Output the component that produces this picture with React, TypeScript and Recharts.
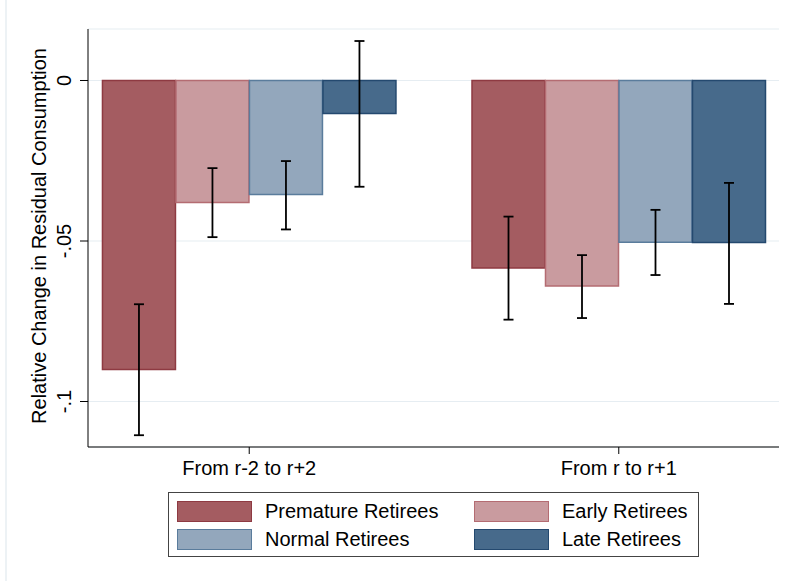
import React from 'react';
import { BarChart, Bar, XAxis, YAxis, CartesianGrid, ErrorBar, Legend } from 'recharts';

const categories = ['From r-2 to r+2', 'From r to r+1'];
const positions = [1, 2];

const premature = [-0.09, -0.0584];
const early = [-0.038, -0.064];
const normal = [-0.0355, -0.0504];
const late = [-0.0103, -0.0505];

const prematureLo = [-0.1105, -0.0745];
const prematureHi = [-0.0697, -0.0424];
const earlyLo = [-0.0488, -0.074];
const earlyHi = [-0.0273, -0.0544];
const normalLo = [-0.0464, -0.0606];
const normalHi = [-0.0251, -0.0403];
const lateLo = [-0.0331, -0.0696];
const lateHi = [0.0123, -0.0319];

const yTicks = [-0.1, -0.05, 0];
const yTickLabels = ['-.1', '-.05', '0'];

const series = [
  { key: 'premature', name: 'Premature Retirees', values: premature, lo: prematureLo, hi: prematureHi, fill: '#a45c61', stroke: '#8e3a42' },
  { key: 'early', name: 'Early Retirees', values: early, lo: earlyLo, hi: earlyHi, fill: '#c99b9f', stroke: '#b46c72' },
  { key: 'normal', name: 'Normal Retirees', values: normal, lo: normalLo, hi: normalHi, fill: '#93a7bc', stroke: '#5a7c9c' },
  { key: 'late', name: 'Late Retirees', values: late, lo: lateLo, hi: lateHi, fill: '#476a8b', stroke: '#24496f' },
];

const data = positions.map((pos, i) => {
  const row: Record<string, any> = { pos, label: categories[i] };
  series.forEach((s) => {
    row[s.key] = s.values[i];
    row[s.key + 'Err'] = [s.values[i] - s.lo[i], s.hi[i] - s.values[i]];
  });
  return row;
});

const FONT = '"Liberation Sans", Arial, sans-serif';

const YTick = (props: any) => {
  const { x, y, payload } = props;
  const idx = yTicks.indexOf(payload.value);
  const bx = x - 7;
  return (
    <text
      x={bx}
      y={y}
      transform={`rotate(-90, ${bx}, ${y})`}
      textAnchor="middle"
      fontSize={20}
      fontFamily={FONT}
      fill="#000"
    >
      {idx >= 0 ? yTickLabels[idx] : payload.value}
    </text>
  );
};

const YLabel = (props: any) => {
  const vb = props.viewBox || { x: 0, y: 29, width: 88, height: 418 };
  const x = vb.x + 45.5;
  const y = vb.y + vb.height / 2 - 2;
  return (
    <text
      x={x}
      y={y}
      transform={`rotate(-90, ${x}, ${y})`}
      textAnchor="middle"
      fontSize={20}
      fontFamily={FONT}
      fill="#000"
    >
      Relative Change in Residual Consumption
    </text>
  );
};

const LegendBox = () => (
  <div
    style={{
      position: 'relative',
      width: 531,
      height: 65,
      boxSizing: 'border-box',
      border: '1px solid #444',
      background: '#fff',
      fontFamily: FONT,
      fontSize: 20,
      color: '#000',
    }}
  >
    {series.map((s, i) => (
      <div
        key={s.key}
        style={{
          position: 'absolute',
          left: 8 + (i % 2) * 297,
          top: 8 + Math.floor(i / 2) * 28,
          height: 21,
          display: 'flex',
          alignItems: 'center',
          whiteSpace: 'nowrap',
        }}
      >
        <div
          style={{
            width: 75,
            height: 21,
            boxSizing: 'border-box',
            background: s.fill,
            border: `1.5px solid ${s.stroke}`,
            marginRight: 13,
          }}
        />
        <span>{s.name}</span>
      </div>
    ))}
  </div>
);

export default function App() {
  return (
    <div style={{ position: 'absolute', left: 0, top: 0, width: 794, height: 582, background: '#fff' }}>
      <div style={{ position: 'absolute', left: 5, top: 0, width: 2, height: 581, background: '#edf2f5' }} />
      <BarChart
        width={794}
        height={582}
        data={data}
        margin={{ top: 29, right: 15, bottom: 0, left: 0 }}
        barGap={0.5}
        barSize={73}
      >
        <CartesianGrid vertical={false} stroke="#e6edf2" strokeWidth={1.2} />
        <XAxis
          dataKey="pos"
          type="number"
          domain={[0.5637, 2.4336]}
          ticks={positions}
          tickFormatter={(v: number) => categories[positions.indexOf(v)] ?? ''}
          height={135}
          tickSize={7}
          tickMargin={7}
          tick={{ fontSize: 20, fontFamily: FONT, fill: '#000' }}
          axisLine={{ stroke: '#000', strokeWidth: 1 }}
          tickLine={{ stroke: '#000', strokeWidth: 1 }}
          allowDataOverflow
        />
        <YAxis
          type="number"
          domain={[-0.11417, 0.01604]}
          ticks={yTicks}
          width={88}
          tickSize={8}
          tick={<YTick />}
          axisLine={{ stroke: '#000', strokeWidth: 1 }}
          tickLine={{ stroke: '#000', strokeWidth: 1 }}
          label={{ content: <YLabel /> } as any}
          allowDataOverflow
        />
        {series.map((s) => (
          <Bar
            key={s.key}
            dataKey={s.key}
            name={s.name}
            fill={s.fill}
            stroke={s.stroke}
            strokeWidth={1.5}
            isAnimationActive={false}
          >
            <ErrorBar dataKey={s.key + 'Err'} width={5} stroke="#000" strokeWidth={1.8} isAnimationActive={false} />
          </Bar>
        ))}
        <Legend
          layout="horizontal"
          verticalAlign="middle"
          align="center"
          width={531}
          height={65}
          wrapperStyle={{ left: 168, top: 492, width: 531, height: 65 }}
          content={<LegendBox />}
        />
      </BarChart>
    </div>
  );
}
